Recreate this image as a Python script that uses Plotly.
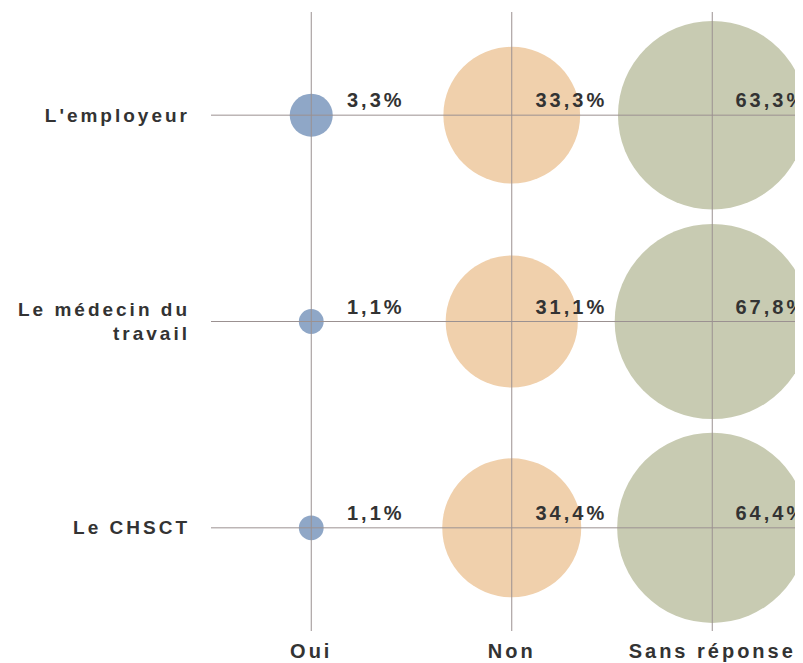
import plotly.graph_objects as go

# ---- data ----
columns = ["Oui", "Non", "Sans réponse"]
rows = ["L'employeur", "Le médecin du<br>travail", "Le CHSCT"]
oui = [3.3, 1.1, 1.1]
non = [33.3, 31.1, 34.4]
sans_reponse = [63.3, 67.8, 64.4]

series = [oui, non, sans_reponse]
colors = ["#8FA7C7", "#F0D0AC", "#C8CBB2"]
line_color = "#9B9191"
text_color = "#333333"
font_family = "Liberation Sans, Arial, sans-serif"

fig = go.Figure()
row_idx = list(range(len(rows)))

for ci, (name, vals) in enumerate(zip(columns, series)):
    fig.add_trace(go.Scatter(
        x=[name] * len(vals),
        y=row_idx,
        mode="markers",
        marker=dict(size=vals, sizemode="area", sizeref=2 / 23.7 ** 2,
                    color=colors[ci], line=dict(width=0), opacity=1),
        cliponaxis=False,
        showlegend=False,
        hoverinfo="skip",
    ))

# grid lines above bubbles
shapes = []
for ci in range(len(columns)):
    shapes.append(dict(type="line", xref="x", yref="y", x0=ci, x1=ci, y0=-0.5, y1=2.5,
                       line=dict(color=line_color, width=1), layer="above"))
for ri in row_idx:
    shapes.append(dict(type="line", xref="x", yref="y", x0=-0.5, x1=2.5, y0=ri, y1=ri,
                       line=dict(color=line_color, width=1), layer="above"))

annotations = []
for ci, vals in enumerate(series):
    for ri, v in enumerate(vals):
        annotations.append(dict(
            x=ci, y=ri, xref="x", yref="y",
            text=f"{v:.1f}%".replace(".", ","),
            showarrow=False, xanchor="right", yanchor="middle",
            xshift=90, yshift=15,
            font=dict(size=20, color=text_color, family=font_family, weight="bold"),
        ))

fig.update_layout(
    width=803, height=663,
    margin=dict(l=203, r=0, t=4, b=40),
    paper_bgcolor="white", plot_bgcolor="white",
    shapes=shapes, annotations=annotations,
    xaxis=dict(
        type="category", categoryarray=columns, categoryorder="array",
        range=[-0.5, -0.5 + 600 / 200.5],
        showgrid=False, zeroline=False, showline=False, ticks="",
        ticklabelstandoff=6,
        tickfont=dict(size=20, color=text_color, family=font_family, weight="bold"),
        fixedrange=True,
    ),
    yaxis=dict(
        range=[2.5, -0.5], tickmode="array", tickvals=row_idx, ticktext=rows,
        showgrid=False, zeroline=False, showline=False, ticks="",
        ticklabelstandoff=20,
        tickfont=dict(size=19, color=text_color, family=font_family, weight="bold"),
        fixedrange=True,
    ),
)

post = """
var gd = document.getElementById('{plot_id}');
gd.querySelectorAll('text').forEach(function(t){ t.style.letterSpacing = '3px'; });
"""

fig.write_html("out.html", post_script=post, config={"displayModeBar": False})
